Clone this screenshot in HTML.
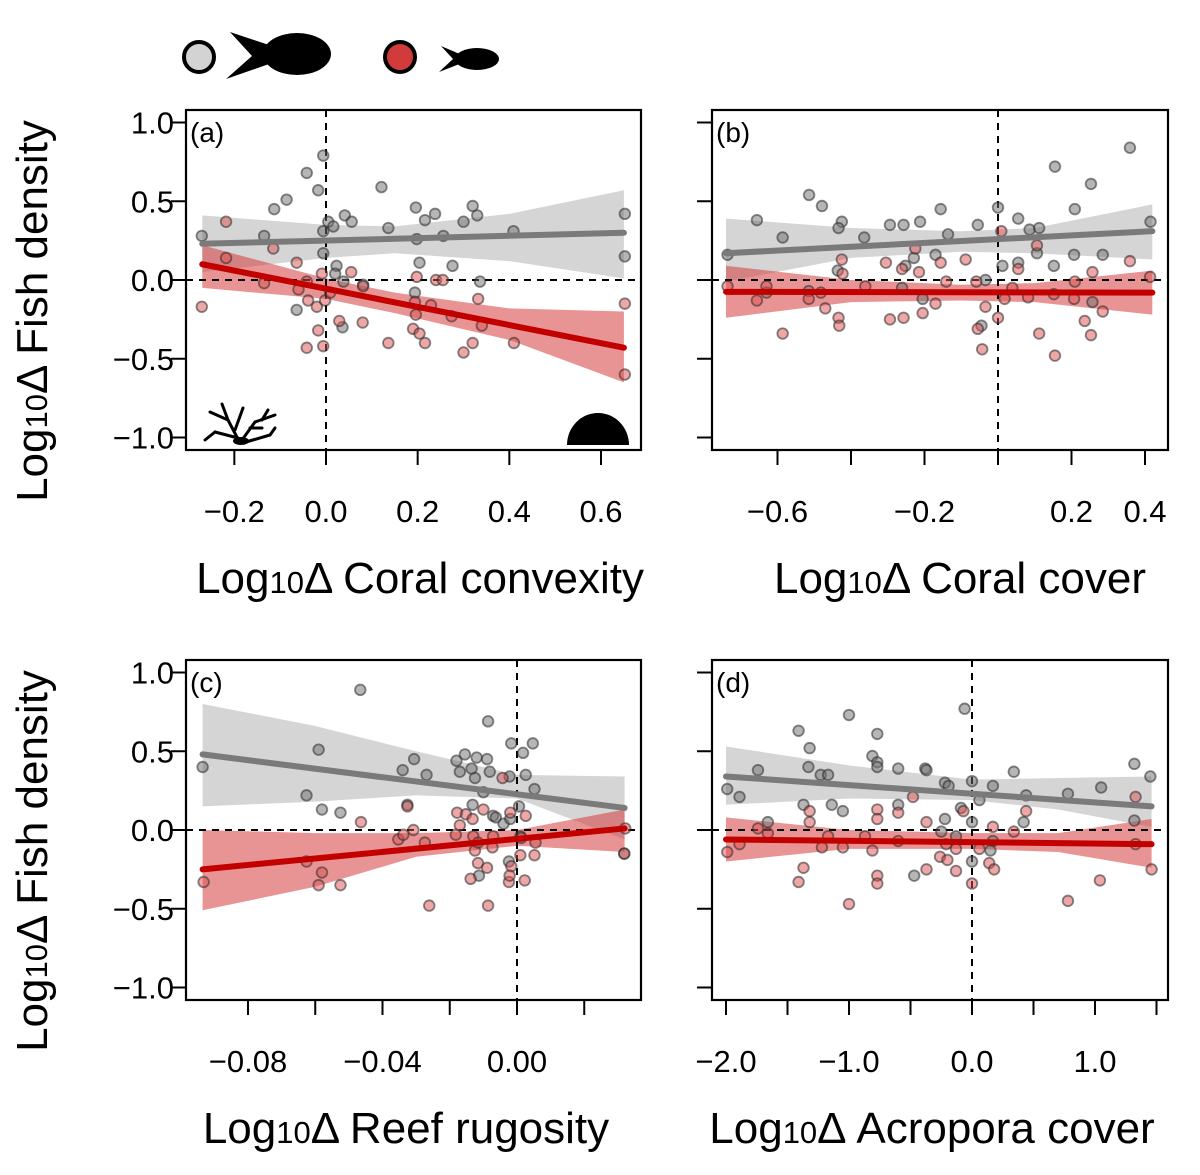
<!DOCTYPE html>
<html><head><meta charset="utf-8"><style>
html,body{margin:0;padding:0;background:#fff}
svg{display:block}
text{font-family:"Liberation Sans",Arial,sans-serif;fill:#000}
</style></head><body>
<svg id="fig" width="1200" height="1175" viewBox="0 0 1200 1175" xmlns="http://www.w3.org/2000/svg">
<g>
  <circle cx="199" cy="57" r="15" fill="#d3d3d3" stroke="#000" stroke-width="4"/>
  <g>
    <ellipse cx="297" cy="54" rx="34" ry="21" fill="#000"/>
    <polygon points="230,32 272,46 272,63 226,79 252,56" fill="#000"/>
  </g>
  <circle cx="400" cy="57" r="15" fill="#d13b3b" stroke="#000" stroke-width="4"/>
  <g>
    <ellipse cx="477" cy="59" rx="22" ry="11" fill="#000"/>
    <polygon points="441,46 462,55 462,63 439,72 453,59" fill="#000"/>
  </g>
</g>
</svg>
<script>
// Panel (a) Coral convexity
const aGreyX=[-0.006,-0.042,-0.017,0.121,-0.086,-0.113,0.196,0.32,0.238,0.216,0.041,0.056,0.33,0.652,0.005,0.136,0.30,0.016,-0.271,-0.135,0.409,0.256,0.198,-0.006,0.652,0.204,0.276,0.023,0.02,0.038,0.336,-0.064,0.036,0.194,0.081,-0.006];
const aGreyY=[0.79,0.68,0.57,0.59,0.51,0.45,0.46,0.47,0.42,0.38,0.41,0.37,0.41,0.42,0.37,0.33,0.37,0.34,0.28,0.28,0.31,0.28,0.26,0.31,0.15,0.11,0.09,0.09,0.04,-0.01,-0.01,-0.19,-0.30,-0.08,-0.03,0.17];
const aRedX=[-0.218,-0.271,-0.218,-0.115,-0.135,-0.064,-0.06,-0.042,-0.039,-0.02,-0.009,-0.002,0.009,-0.006,-0.042,-0.017,0.029,0.055,0.08,0.136,0.19,0.204,0.216,0.196,0.198,0.229,0.24,0.255,0.274,0.30,0.32,0.332,0.34,0.41,0.652,0.652,0.081,0.194];
const aRedY=[0.37,-0.17,0.14,0.20,-0.02,0.11,-0.06,-0.01,-0.13,-0.17,0.04,-0.13,-0.08,-0.42,-0.43,-0.32,-0.26,0.05,-0.27,-0.40,-0.31,-0.34,-0.40,-0.22,0.02,-0.16,0.0,0.0,-0.23,-0.46,-0.40,-0.12,-0.29,-0.40,-0.15,-0.60,-0.04,-0.14];
const aLineX=[-0.27,0.65];
const aGreyLine=[0.23,0.30];
const aRedLine=[0.10,-0.43];
const aBandX=[-0.27,0,0.15,0.4,0.65];
const aGreyHi=[0.41,0.35,0.34,0.42,0.57];
const aGreyLo=[0.05,0.14,0.17,0.12,0.01];
const aRedHi=[0.22,0.01,-0.08,-0.18,-0.20];
const aRedLo=[-0.05,-0.12,-0.21,-0.38,-0.65];
const aTicks=[-0.2,0,0.2,0.4,0.6];
const aTickLabels=["\u22120.2","0.0","0.2","0.4","0.6"];

// Panel (b) Coral cover
const bGreyX=[0.359,0.155,0.253,-0.514,-0.479,-0.156,0,0.209,-0.656,-0.425,-0.294,-0.257,-0.212,-0.055,0.055,0.415,-0.434,-0.586,-0.364,-0.136,0.086,0.112,-0.736,0.106,0.207,-0.17,-0.229,-0.252,-0.436,0.012,0.055,0.152,-0.034,-0.261,-0.205,-0.63,-0.515,0.257,-0.045,0.285];
const bGreyY=[0.84,0.72,0.61,0.54,0.47,0.45,0.46,0.45,0.38,0.37,0.35,0.35,0.37,0.35,0.39,0.37,0.33,0.27,0.27,0.29,0.32,0.33,0.16,0.17,0.16,0.16,0.14,0.09,0.06,0.09,0.11,0.09,0.0,-0.05,-0.12,-0.08,-0.07,-0.14,-0.29,0.16];
const bRedX=[-0.736,-0.656,-0.63,-0.586,-0.515,-0.482,-0.47,-0.434,-0.432,-0.423,-0.425,-0.361,-0.305,-0.294,-0.261,-0.257,-0.215,-0.205,-0.17,-0.156,-0.141,-0.088,-0.059,-0.043,-0.034,-0.055,0,0.018,0.039,0.055,0.082,0.112,0.152,0.155,0.207,0.209,0.236,0.253,0.257,0.285,0.359,0.414,0.009,0.106,-0.225];
const bRedY=[-0.04,-0.13,-0.04,-0.34,-0.12,-0.08,-0.18,-0.24,-0.29,0.04,0.13,-0.04,0.11,-0.25,0.07,-0.24,0.05,-0.21,-0.15,0.11,-0.01,0.13,-0.01,-0.44,-0.17,-0.31,-0.24,-0.12,-0.05,0.07,-0.11,-0.34,-0.09,-0.48,-0.12,-0.01,-0.26,-0.35,0.05,-0.20,0.12,0.02,0.31,0.22,0.20];
const bLineX=[-0.74,0.42];
const bGreyLine=[0.17,0.31];
const bRedLine=[-0.075,-0.08];
const bBandX=[-0.74,-0.4,-0.1,0.1,0.42];
const bGreyHi=[0.39,0.33,0.31,0.33,0.48];
const bGreyLo=[-0.01,0.14,0.18,0.17,0.13];
const bRedHi=[0.09,0.0,-0.03,-0.02,0.06];
const bRedLo=[-0.24,-0.14,-0.13,-0.14,-0.22];
const bTicks=[-0.6,-0.4,-0.2,0,0.2,0.4];
const bTickLabels=["\u22120.6","","\u22120.2","","0.2","0.4"];

// Panel (c) Reef rugosity
const cGreyX=[-0.0466,-0.0086,-0.0017,0.0047,0.0018,-0.059,-0.0306,-0.018,-0.0155,-0.012,-0.0089,-0.0935,-0.034,-0.0269,-0.017,-0.0135,-0.0081,-0.0022,0.0026,-0.0125,-0.0626,-0.01,0.0052,-0.058,-0.0525,-0.0326,-0.0132,-0.0071,-0.004,-0.002,0.0006,-0.0024,-0.0113,0.0319,0.001,-0.0063];
const cGreyY=[0.89,0.69,0.55,0.55,0.49,0.51,0.45,0.44,0.48,0.46,0.45,0.40,0.38,0.35,0.37,0.39,0.37,0.34,0.35,0.33,0.22,0.24,0.26,0.13,0.11,0.16,0.16,0.09,0.04,0.07,0.15,-0.20,-0.29,-0.15,-0.04,0.08];
const cRedX=[-0.0932,-0.0626,-0.058,-0.059,-0.0525,-0.0464,-0.0308,-0.0353,-0.0338,-0.0274,-0.0261,-0.0326,-0.0178,-0.0152,-0.0132,-0.01,-0.0043,-0.0182,-0.017,-0.013,-0.0125,-0.0116,-0.0116,-0.0089,-0.0086,-0.0138,-0.0073,-0.0071,-0.002,-0.0017,-0.0024,-0.0022,0.001,0.0013,0.0023,0.0026,0.0052,0.0055,0.0319,0.0322];
const cRedY=[-0.33,-0.20,-0.27,-0.35,-0.35,0.05,0.0,-0.06,-0.03,-0.08,-0.48,0.15,0.11,0.10,0.07,0.13,0.33,-0.03,0.03,-0.04,-0.13,-0.08,-0.21,-0.24,-0.48,-0.31,-0.11,-0.04,0.11,-0.23,-0.33,-0.29,-0.16,-0.05,-0.32,0.09,-0.16,-0.08,-0.15,0.01];
const cLineX=[-0.0935,0.032];
const cGreyLine=[0.48,0.14];
const cRedLine=[-0.25,0.01];
const cBandX=[-0.0935,-0.06,-0.03,0,0.032];
const cGreyHi=[0.80,0.66,0.50,0.35,0.34];
const cGreyLo=[0.15,0.18,0.22,0.20,-0.06];
const cRedHi=[0.0,-0.02,-0.02,0.0,0.13];
const cRedLo=[-0.51,-0.36,-0.17,-0.10,-0.14];
const cTicks=[-0.08,-0.06,-0.04,-0.02,0,0.02];
const cTickLabels=["\u22120.08","","\u22120.04","","0.00",""];

// Panel (d) Acropora cover
const dGreyX=[-1.0,-0.06,-1.41,-0.77,-1.32,-0.81,-0.77,-0.77,-0.6,-0.38,-0.37,0.34,1.32,1.45,-1.74,-1.33,-1.23,-1.17,-1.99,-1.89,0.0,-0.22,-0.19,0.17,1.05,0.78,0.44,0.06,-0.09,-1.37,-1.14,-1.05,-0.6,-1.66,-0.22,0.0,0.42,1.32,-0.25,-0.13,0.17,0.15,0.0,-0.47];
const dGreyY=[0.73,0.77,0.63,0.61,0.52,0.47,0.43,0.40,0.39,0.39,0.38,0.37,0.42,0.34,0.38,0.40,0.35,0.35,0.26,0.21,0.31,0.30,0.28,0.28,0.27,0.23,0.22,0.19,0.14,0.16,0.16,0.12,0.16,0.05,0.07,0.05,0.05,0.06,-0.01,-0.04,-0.07,-0.13,-0.20,-0.29];
const dRedX=[-1.99,-1.89,-1.74,-1.66,-1.37,-1.41,-1.32,-1.32,-1.22,-1.17,-1.05,-1.0,-0.87,-0.81,-0.77,-0.77,-0.77,-0.77,-0.6,-0.6,-0.48,-0.37,-0.37,-0.26,-0.2,-0.21,-0.13,-0.13,-0.07,0.0,0.06,0.14,0.18,0.17,0.34,0.44,0.78,1.04,1.33,1.33,1.46];
const dRedY=[-0.14,-0.09,0.01,-0.02,-0.24,-0.33,0.12,0.05,-0.11,-0.04,-0.11,-0.47,-0.04,-0.13,0.13,0.07,-0.29,-0.34,0.11,-0.07,0.21,0.05,-0.25,-0.17,-0.19,-0.09,-0.26,-0.12,0.12,-0.34,-0.12,-0.21,-0.25,0.02,-0.01,0.12,-0.45,-0.32,-0.09,0.21,-0.25];
const dLineX=[-2.0,1.46];
const dGreyLine=[0.34,0.15];
const dRedLine=[-0.06,-0.09];
const dBandX=[-2,-1,0,0.7,1.46];
const dGreyHi=[0.53,0.41,0.32,0.33,0.34];
const dGreyLo=[0.16,0.20,0.19,0.13,0.02];
const dRedHi=[0.08,0.0,-0.02,-0.02,0.07];
const dRedLo=[-0.20,-0.12,-0.12,-0.14,-0.24];
const dTicks=[-2,-1.5,-1,-0.5,0,0.5,1,1.5];
const dTickLabels=["\u22122.0","","\u22121.0","","0.0","","1.0",""];

const yTicks=[1,0.5,0,-0.5,-1];
const yTickLabels=["1.0","0.5","0.0","\u22120.5","\u22121.0"];

const NS="http://www.w3.org/2000/svg";
const svg=document.getElementById('fig');
function mk(tag,attrs,parent){const e=document.createElementNS(NS,tag);for(const k in attrs)e.setAttribute(k,attrs[k]);(parent||svg).appendChild(e);return e;}

function panel(name,letter,box,x0,x1,xPix0,xPix1,y0pix,data,xTitle,xTitleX,showY){
  const xs=v=>xPix0+(v-x0)*(xPix1-xPix0)/(x1-x0);
  const ys=v=>y0pix-v*157.5;
  const g=mk('g',{});
  
  
  const [L,T,R,B]=box;
  function band(bx,hi,lo,fill,nm){
    let d='M'+bx.map((v,i)=>xs(v).toFixed(1)+','+ys(hi[i]).toFixed(1)).join(' L');
    for(let i=bx.length-1;i>=0;i--)d+=' L'+xs(bx[i]).toFixed(1)+','+ys(lo[i]).toFixed(1);
    const p=mk('path',{d:d+'Z',fill:fill},g);
    
    
  }
  band(data.bandX,data.greyHi,data.greyLo,'rgba(190,190,190,0.65)','large-fish-ci-band');
  band(data.bandX,data.redHi,data.redLo,'rgba(215,60,60,0.55)','small-fish-ci-band');
  const h=mk('line',{x1:L,x2:R,y1:ys(0),y2:ys(0),stroke:'#000','stroke-width':2,'stroke-dasharray':'7,6'},g);
  
  
  const v=mk('line',{x1:xs(0),x2:xs(0),y1:T,y2:B+14,stroke:'#000','stroke-width':2,'stroke-dasharray':'7,6'},g);
  
  
  function pts(X,Y,fill,nm){
    for(let i=0;i<X.length;i++){
      const c=mk('circle',{cx:xs(X[i]),cy:ys(Y[i]),r:5.3,fill:fill,stroke:'rgba(40,40,40,0.55)','stroke-width':1.8},g);
      
      
    }
  }
  pts(data.greyX,data.greyY,'rgba(110,110,110,0.5)','large-fish-point');
  pts(data.redX,data.redY,'rgba(220,80,80,0.5)','small-fish-point');
  const gl=mk('line',{x1:xs(data.lineX[0]),x2:xs(data.lineX[1]),y1:ys(data.greyLine[0]),y2:ys(data.greyLine[1]),stroke:'#7a7a7a','stroke-width':6,'stroke-linecap':'round'},g);
  
  
  const rl=mk('line',{x1:xs(data.lineX[0]),x2:xs(data.lineX[1]),y1:ys(data.redLine[0]),y2:ys(data.redLine[1]),stroke:'#c20000','stroke-width':6,'stroke-linecap':'round'},g);
  
  
  const bx=mk('rect',{x:L,y:T,width:R-L,height:B-T,fill:'none',stroke:'#000','stroke-width':2.2},g);
  
  
  data.ticks.forEach((t,i)=>{
    const tl=mk('line',{x1:xs(t),x2:xs(t),y1:B,y2:B+15,stroke:'#000','stroke-width':2},g);
    
    
    if(data.tickLabels[i]){
      const tx=mk('text',{x:xs(t),y:B+72,'text-anchor':'middle','font-size':31},g);
      tx.textContent=data.tickLabels[i];
      
      
    }
  });
  yTicks.forEach((t,i)=>{
    const tl=mk('line',{x1:L-15,x2:L,y1:ys(t),y2:ys(t),stroke:'#000','stroke-width':2},g);
    
    
    if(showY){
      const tx=mk('text',{x:L-12,y:ys(t)+11,'text-anchor':'end','font-size':31},g);
      tx.textContent=yTickLabels[i];
      
      
    }
  });
  const lt=mk('text',{x:L+4,y:T+32,'font-size':28},g);
  lt.textContent='('+letter+')';
  
  
  const xt=mk('text',{x:xTitleX,y:B+143,'text-anchor':'middle','font-size':44},g);
  xt.innerHTML='Log<tspan font-size="31">10</tspan>\u0394 '+xTitle;
  
  
  if(showY){
    const cy=(T+B)/2+31;
    const yt=mk('text',{x:0,y:0,'text-anchor':'middle','font-size':44,transform:'translate(47,'+cy+') rotate(-90)'},g);
    yt.innerHTML='Log<tspan font-size="31">10</tspan>\u0394 Fish density';
    
    
  }
  return g;
}

panel('panel-a-coral-convexity','a',[186,110,641,450],0,0.6,326,601,280,
  {greyX:aGreyX,greyY:aGreyY,redX:aRedX,redY:aRedY,lineX:aLineX,greyLine:aGreyLine,redLine:aRedLine,bandX:aBandX,greyHi:aGreyHi,greyLo:aGreyLo,redHi:aRedHi,redLo:aRedLo,ticks:aTicks,tickLabels:aTickLabels},
  'Coral convexity',420,true);
panel('panel-b-coral-cover','b',[712,110,1168,450],0,0.4,998,1145,280,
  {greyX:bGreyX,greyY:bGreyY,redX:bRedX,redY:bRedY,lineX:bLineX,greyLine:bGreyLine,redLine:bRedLine,bandX:bBandX,greyHi:bGreyHi,greyLo:bGreyLo,redHi:bRedHi,redLo:bRedLo,ticks:bTicks,tickLabels:bTickLabels},
  'Coral cover',960,false);
panel('panel-c-reef-rugosity','c',[186,660,641,1000],0,-0.08,517,248,830,
  {greyX:cGreyX,greyY:cGreyY,redX:cRedX,redY:cRedY,lineX:cLineX,greyLine:cGreyLine,redLine:cRedLine,bandX:cBandX,greyHi:cGreyHi,greyLo:cGreyLo,redHi:cRedHi,redLo:cRedLo,ticks:cTicks,tickLabels:cTickLabels},
  'Reef rugosity',406,true);
panel('panel-d-acropora-cover','d',[712,660,1168,1000],0,1,972,1095,830,
  {greyX:dGreyX,greyY:dGreyY,redX:dRedX,redY:dRedY,lineX:dLineX,greyLine:dGreyLine,redLine:dRedLine,bandX:dBandX,greyHi:dGreyHi,greyLo:dGreyLo,redHi:dRedHi,redLo:dRedLo,ticks:dTicks,tickLabels:dTickLabels},
  'Acropora cover',932,false);

const br=mk('g',{stroke:'#000','stroke-width':3,fill:'none','stroke-linecap':'round'});


[[240,443,228,420],[228,420,222,404],[228,420,210,412],[238,438,215,432],[215,432,205,440],[242,440,255,422],[255,422,275,415],[262,420,268,410],[246,442,270,435],[270,435,275,428],[235,430,243,408],[250,428,262,428]].forEach(s=>{mk('line',{x1:s[0],y1:s[1],x2:s[2],y2:s[3]},br);});
mk('ellipse',{cx:241,cy:441,rx:8,ry:4,fill:'#000',stroke:'none'},br);
const dome=mk('path',{d:'M567,445 A31,32 0 0 1 629,445 Z',fill:'#000'});


</script>
</body></html>
